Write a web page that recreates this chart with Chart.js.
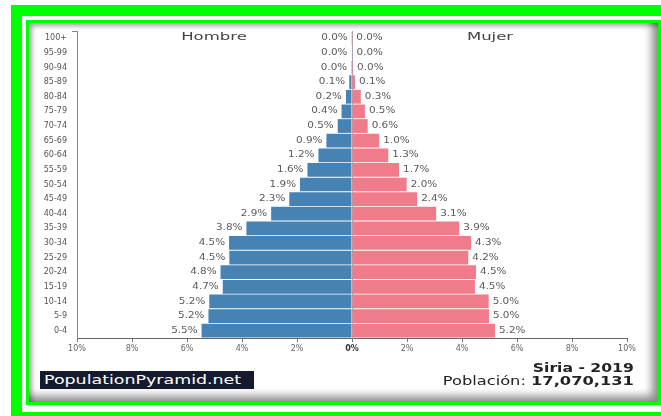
<!DOCTYPE html>
<html>
<head>
<meta charset="utf-8">
<script src="https://cdn.jsdelivr.net/npm/chart.js@4.4.1/dist/chart.umd.min.js"></script>
<style>
  html, body { margin: 0; padding: 0; background: #fff; overflow: hidden; }
  body { width: 661px; height: 416px; position: relative; font-family: "DejaVu Sans", sans-serif; }
  .outer { position: absolute; left: 11px; top: 5px; width: 700px; height: 418px; border: 11px solid #00ff00; box-sizing: border-box; }
  .inner { position: absolute; left: 26px; top: 20px; width: 635px; height: 385px; border: 3px solid #00ff00; box-sizing: border-box; }
  .panel { position: absolute; left: 29px; top: 23px; width: 629px; height: 379px; background: #fff;
           box-shadow: inset 3px 3px 5px rgba(0,0,0,0.35), inset -6px -6px 8px rgba(0,0,0,0.45); }
  .wrap { position: absolute; left: 0; top: 0; width: 661px; height: 416px; }
  .txt { position: absolute; white-space: nowrap; color: #444; }
  .side { font-size: 11px; transform: translate(-50%, -50%) scaleX(1.5); }
  .brand { position: absolute; left: 40px; top: 371px; width: 214px; height: 18px; background: #161a2e; }
  .brand span { position: absolute; left: 4px; top: 0; line-height: 18px; font-size: 13px; color: #fff;
                transform-origin: left center; transform: scaleX(1.34); white-space: nowrap; }
  .info { position: absolute; right: 27px; text-align: right; font-size: 13px; color: #222;
          transform-origin: right center; transform: scaleX(1.25); white-space: nowrap; }
</style>
</head>
<body>
<div class="outer"></div>
<div class="inner"></div>
<div class="panel"></div>
<div class="wrap"><canvas id="pyramid"></canvas></div>
<div class="txt side" style="left:214px; top:36px;">Hombre</div>
<div class="txt side" style="left:490px; top:36px;">Mujer</div>
<div class="brand"><span>PopulationPyramid.net</span></div>
<div class="info" style="top:360px; font-weight:bold; font-size:12.5px;">Siria - 2019</div>
<div class="info" style="top:373px;">Población: <b>17,070,131</b></div>
<script>
  const ageGroups = ['100+', '95-99', '90-94', '85-89', '80-84', '75-79', '70-74', '65-69', '60-64',
    '55-59', '50-54', '45-49', '40-44', '35-39', '30-34', '25-29', '20-24', '15-19', '10-14', '5-9', '0-4'];
  // porcentaje de la población total
  const hombres = [0.01, 0.02, 0.03, 0.1, 0.22, 0.38, 0.52, 0.93, 1.22, 1.62, 1.89, 2.28, 2.94, 3.84,
    4.47, 4.46, 4.78, 4.7, 5.19, 5.22, 5.47];
  const mujeres = [0.01, 0.02, 0.04, 0.11, 0.32, 0.47, 0.57, 0.99, 1.32, 1.71, 1.99, 2.37, 3.06, 3.9,
    4.33, 4.23, 4.51, 4.47, 4.97, 4.98, 5.2];
  const xTicks = [-10, -8, -6, -4, -2, 0, 2, 4, 6, 8, 10];

  const barLabels = {
    id: 'barLabels',
    afterDatasetsDraw(chart) {
      const ctx = chart.ctx;
      ctx.save();
      ctx.font = '8px "DejaVu Sans"';
      ctx.fillStyle = '#5a5a5a';
      ctx.textBaseline = 'middle';
      chart.data.datasets.forEach((ds, i) => {
        chart.getDatasetMeta(i).data.forEach((bar, j) => {
          const v = ds.data[j];
          const txt = Math.abs(v).toFixed(1) + '%';
          ctx.save();
          if (v < 0) {
            ctx.translate(bar.x - 4, bar.y);
            ctx.textAlign = 'right';
          } else {
            ctx.translate(bar.x + 4, bar.y);
            ctx.textAlign = 'left';
          }
          ctx.scale(1.3, 1);
          ctx.fillText(txt, 0, 0);
          ctx.restore();
        });
      });
      // pequeño tope del eje vertical
      const y = chart.scales.y;
      ctx.strokeStyle = '#888';
      ctx.lineWidth = 1;
      ctx.beginPath();
      ctx.moveTo(y.right - 5, y.top + 0.5);
      ctx.lineTo(y.right, y.top + 0.5);
      ctx.stroke();
      ctx.restore();
    }
  };

  new Chart(document.getElementById('pyramid'), {
    type: 'bar',
    data: {
      labels: ageGroups,
      datasets: [
        { label: 'Hombre', data: hombres.map(v => -v), backgroundColor: '#4682b4',
          barPercentage: 0.94, categoryPercentage: 1.0 },
        { label: 'Mujer', data: mujeres, backgroundColor: '#f07b8a',
          barPercentage: 0.94, categoryPercentage: 1.0 }
      ]
    },
    options: {
      indexAxis: 'y',
      responsive: true,
      maintainAspectRatio: false,
      animation: false,
      layout: { padding: { left: 0, right: 34, top: 31, bottom: 58 } },
      plugins: { legend: { display: false }, tooltip: { enabled: false } },
      scales: {
        x: {
          min: -10, max: 10, z: 1,
          afterBuildTicks: (scale) => { scale.ticks = xTicks.map(v => ({ value: v })); },
          afterFit: (scale) => { scale.height = 20; },
          grid: {
            color: (c) => (c.tick && c.tick.value === 0) ? 'rgba(60,60,90,0.45)' : 'rgba(0,0,0,0)',
            tickColor: '#777', tickLength: 4
          },
          border: { color: '#666' },
          ticks: {
            padding: 2,
            color: (c) => (c.tick && c.tick.value === 0) ? '#333' : '#666',
            font: (c) => ({ family: 'DejaVu Sans', size: 8,
              weight: (c.tick && c.tick.value === 0) ? 'bold' : 'normal' }),
            callback: (v) => Math.abs(v) + '%'
          }
        },
        y: {
          stacked: true,
          afterFit: (scale) => { scale.width = 77; },
          grid: { display: false, drawTicks: false },
          border: { color: '#888' },
          ticks: { padding: 10, color: '#555', font: { family: 'DejaVu Sans', size: 8 } }
        }
      }
    },
    plugins: [barLabels]
  });
</script>
</body>
</html>
